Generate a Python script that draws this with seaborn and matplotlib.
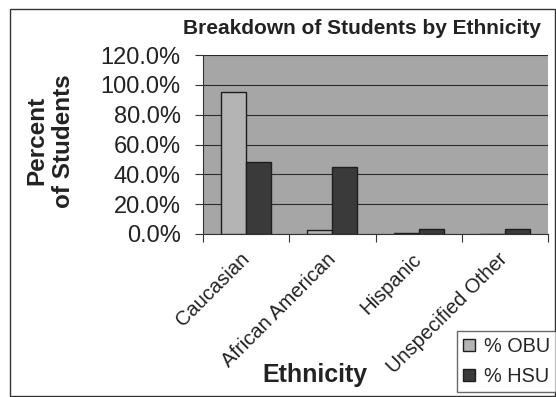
import seaborn as sns
import matplotlib.pyplot as plt
import matplotlib.patches as mpatches
from matplotlib.ticker import FuncFormatter, FixedLocator
import pandas as pd

# values
ethnicities = ['Caucasian', 'African American', 'Hispanic', 'Unspecified Other']
obu = [95.5, 2.5, 0.6, 0.3]
hsu = [48.2, 44.8, 3.3, 3.3]
series = ['% OBU', '% HSU']

df = pd.DataFrame({
    'Ethnicity': ethnicities * 2,
    'School': [series[0]] * 4 + [series[1]] * 4,
    'Percent': obu + hsu,
})

sns.set_style('white')
plt.rcParams['font.family'] = ['Liberation Sans', 'DejaVu Sans']

fig = plt.figure(figsize=(5.56, 3.97), dpi=100)
ax = fig.add_axes([203 / 556, 1 - 234 / 397, (548 - 203) / 556, (234 - 55) / 397])

pal = {'% OBU': '#b4b4b4', '% HSU': '#3a3a3a'}
sns.barplot(data=df, x='Ethnicity', y='Percent', hue='School', palette=pal,
            width=0.58, gap=0, edgecolor='#1e1e1e', linewidth=1.0,
            saturation=1, ax=ax, zorder=3)

ax.set_facecolor('#a6a6a6')
ax.set_ylim(0, 120)
ax.set_xlim(-0.5, 3.5)
ax.set_yticks(range(0, 121, 20))
ax.yaxis.set_major_formatter(FuncFormatter(lambda v, p: f'{v:.1f}%'))
ax.grid(axis='y', color='#2a2a2a', linewidth=0.8, zorder=1)
ax.set_axisbelow(True)

ax.tick_params(axis='y', labelsize=17, length=6, width=0.8, color='#333333',
               left=True, pad=10, labelcolor='#222222')
ax.set_xticks(range(4))
ax.set_xticklabels(ethnicities, rotation=45, ha='right', va='center',
                   rotation_mode='anchor', fontsize=14.5, color='#222222')
ax.tick_params(axis='x', length=0, pad=16)
ax.xaxis.set_minor_locator(FixedLocator([-0.5, 0.5, 1.5, 2.5, 3.5]))
ax.tick_params(axis='x', which='minor', length=6, width=0.8, color='#333333', bottom=True)

for s in ['top', 'right']:
    ax.spines[s].set_visible(False)
ax.spines['left'].set_color('#333333')
ax.spines['bottom'].set_color('#333333')

ax.set_ylabel('Percent\nof Students', fontsize=17.5, fontweight='bold', color='#222222',
              linespacing=1.25)
ax.yaxis.set_label_coords(-0.443, 0.52)
ax.yaxis.label.set_va('center')

ax.set_xlabel('Ethnicity', fontsize=18, fontweight='bold', color='#222222')
ax.xaxis.set_label_coords((315 - 203) / 345, (234 - 375) / 179)
ax.xaxis.label.set_va('center')

ax.text((361.5 - 203) / 345, (234 - 28) / 179, 'Breakdown of Students by Ethnicity',
        transform=ax.transAxes, ha='center', va='center', fontsize=15,
        fontweight='bold', color='#222222')

handles = [mpatches.Patch(facecolor=pal[s], edgecolor='#1e1e1e', label=s) for s in series]
ax.get_legend().remove()
fig.legend(handles=handles, loc='lower right', bbox_to_anchor=(556 / 556, 5 / 397),
           fontsize=14.3, frameon=True, fancybox=False, edgecolor='#444444',
           handlelength=0.6, handleheight=0.6, handletextpad=0.45,
           borderpad=0.3, labelspacing=0.55, borderaxespad=0)

fig.patches.append(mpatches.Rectangle((10 / 556, 1 / 397), 545 / 556, 387 / 397,
                                      transform=fig.transFigure, fill=False,
                                      edgecolor='#333333', linewidth=1.0))

fig.savefig('out.png', dpi=100)
